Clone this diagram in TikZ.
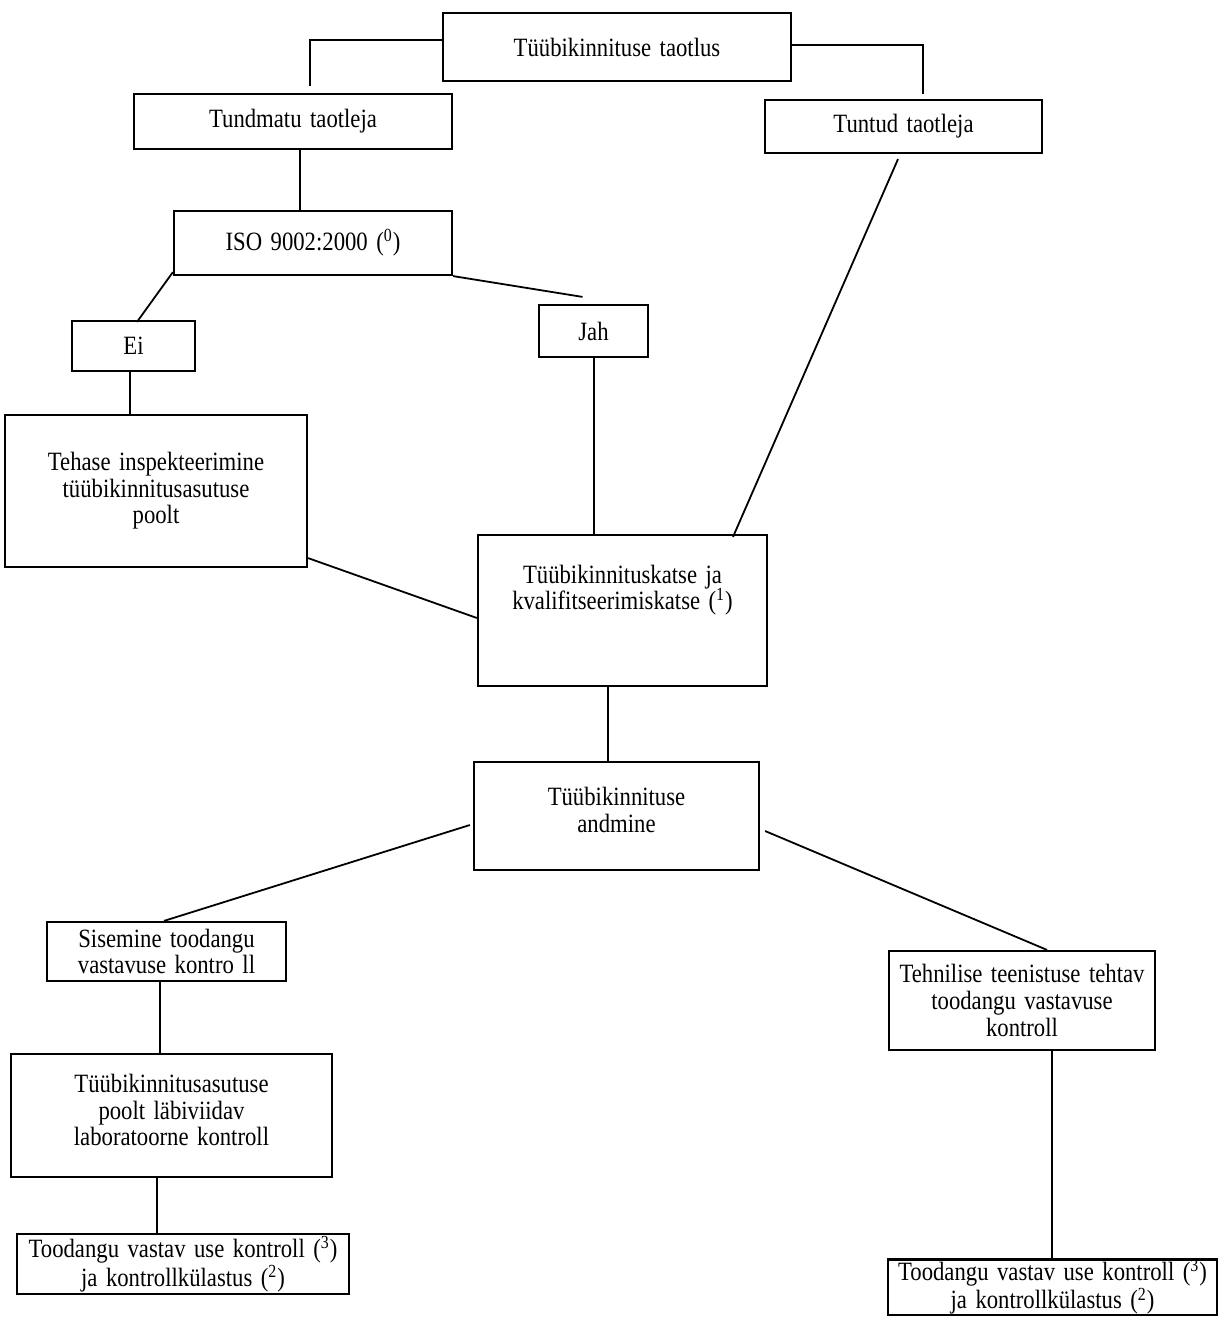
\documentclass[tikz,border=0pt]{standalone}
\usepackage{fontspec}
\setmainfont{Liberation Serif}[FakeStretch=0.86, WordSpace=1.5]
\usepackage{tikz}
\usetikzlibrary{positioning, calc}
\newcommand{\docfont}{\fontsize{13.2}{13.3}\selectfont}
\tikzset{
    % Box styles - plain sharp rectangles
    stagebox/.style={
        rectangle,
        draw=black,
        line width=1.1pt,
        fill=white,
        text centered,
        align=center,
        inner sep=1pt,
        font=\docfont
    },
    boxtext/.style={
        align=center,
        inner sep=0pt,
        font=\docfont
    },
    % Connector style
    link/.style={
        draw=black,
        line width=0.9pt
    }
}

\begin{document}
\begin{tikzpicture}[x=0.5pt, y=-0.5pt]
    \useasboundingbox (0,0) rectangle (1229,1339);

    % Application and applicants
    \node[stagebox, minimum width=174pt, minimum height=34pt] (taotlus) at (617,47) {Tüübikinnituse taotlus};
    \node[stagebox, minimum width=159pt, minimum height=27.5pt] (tundmatu) at (293,121.5) {Tundmatu taotleja};
    \node[stagebox, minimum width=138.5pt, minimum height=26.5pt] (tuntud) at (903.5,126.5) {Tuntud taotleja};

    % Quality system check
    \node[stagebox, minimum width=139pt, minimum height=32pt] (iso) at (313,243) {ISO 9002:2000 (\textsuperscript{0})};
    \node[stagebox, minimum width=61.5pt, minimum height=25pt] (ei) at (133.5,346) {Ei};
    \node[stagebox, minimum width=54.5pt, minimum height=26pt] (jah) at (593.5,331) {Jah};
    \node[stagebox, minimum width=151pt, minimum height=76pt] (tehase) at (156,491) {Tehase inspekteerimine\\tüübikinnitusasutuse\\poolt};

    % Tests and approval
    \node[stagebox, minimum width=144.5pt, minimum height=75.5pt] (katse) at (622.5,610.5) {};
    \node[boxtext] (katsetext) at (622.5,590) {Tüübikinnituskatse ja\\kvalifitseerimiskatse (\textsuperscript{1})};
    \node[stagebox, minimum width=142.5pt, minimum height=54pt] (andmine) at (616.5,816) {};
    \node[boxtext] (andminetext) at (616.5,810) {Tüübikinnituse\\andmine};

    % Conformity of production
    \node[stagebox, minimum width=119.5pt, minimum height=29.5pt] (sisemine) at (166.5,951.5) {Sisemine toodangu\\vastavuse kontro ll};
    \node[stagebox, minimum width=133pt, minimum height=49.5pt] (tehnilise) at (1022,1000.5) {Tehnilise teenistuse tehtav\\toodangu vastavuse\\kontroll};
    \node[stagebox, minimum width=160.5pt, minimum height=61.5pt] (labor) at (171.5,1115.5) {};
    \node[boxtext] (labortext) at (171.5,1110) {Tüübikinnitusasutuse\\poolt läbiviidav\\laboratoorne kontroll};
    \node[stagebox, minimum width=166pt, minimum height=30pt] (kontrollL) at (183,1264) {Toodangu vastav use kontroll (\textsuperscript{3})\\ja kontrollkülastus (\textsuperscript{2})};
    \node[stagebox, minimum width=164.5pt, minimum height=26pt, inner sep=0pt] (kontrollR) at (1052.5,1287) {Toodangu vastav use kontroll (\textsuperscript{3})\\ja kontrollkülastus (\textsuperscript{2})};

    % Connectors
    \draw[link, shorten >=3.5pt] ($(taotlus.west)+(0,-7)$) -| ($(tundmatu.north)+(17,0)$);
    \draw[link, shorten >=2.5pt] ($(taotlus.east)+(0,-2)$) -| ($(tuntud.north)+(19.5,0)$);
    \draw[link] ($(tundmatu.south)+(7,0)$) -- ($(iso.north)+(-13,0)$);
    \draw[link] ($(iso.south west)+(0,-4)$) -- ($(ei.north)+(3.5,2)$);
    \draw[link] (iso.south east) -- ($(jah.north)+(-11,-7)$);
    \draw[link] ($(ei.south)+(-3.5,0)$) -- ($(tehase.north)+(-26,0)$);
    \draw[link] ($(jah.south)+(0.5,0)$) -- ($(katse.north)+(-28.5,0)$);
    \draw[link] ($(tuntud.south)+(-5.5,5)$) -- ($(katse.north)+(110.5,3)$);
    \draw[link] ($(tehase.south east)+(0,-10)$) -- ($(katse.west)+(0,7.5)$);
    \draw[link] ($(katse.south)+(-14.5,0)$) -- ($(andmine.north)+(-8.5,0)$);
    \draw[link] ($(andmine.west)+(-3,9)$) -- ($(sisemine.north)+(-2.5,0)$);
    \draw[link] ($(andmine.east)+(5,15)$) -- ($(tehnilise.north)+(25,0)$);
    \draw[link] ($(sisemine.south)+(-6.5,0)$) -- ($(labor.north)+(-11.5,0)$);
    \draw[link] ($(labor.south)+(-14.5,0)$) -- ($(kontrollL.north)+(-26,0)$);
    \draw[link] ($(tehnilise.south)+(30,0)$) -- ($(kontrollR.north)+(-0.5,0)$);
\end{tikzpicture}
\end{document}
